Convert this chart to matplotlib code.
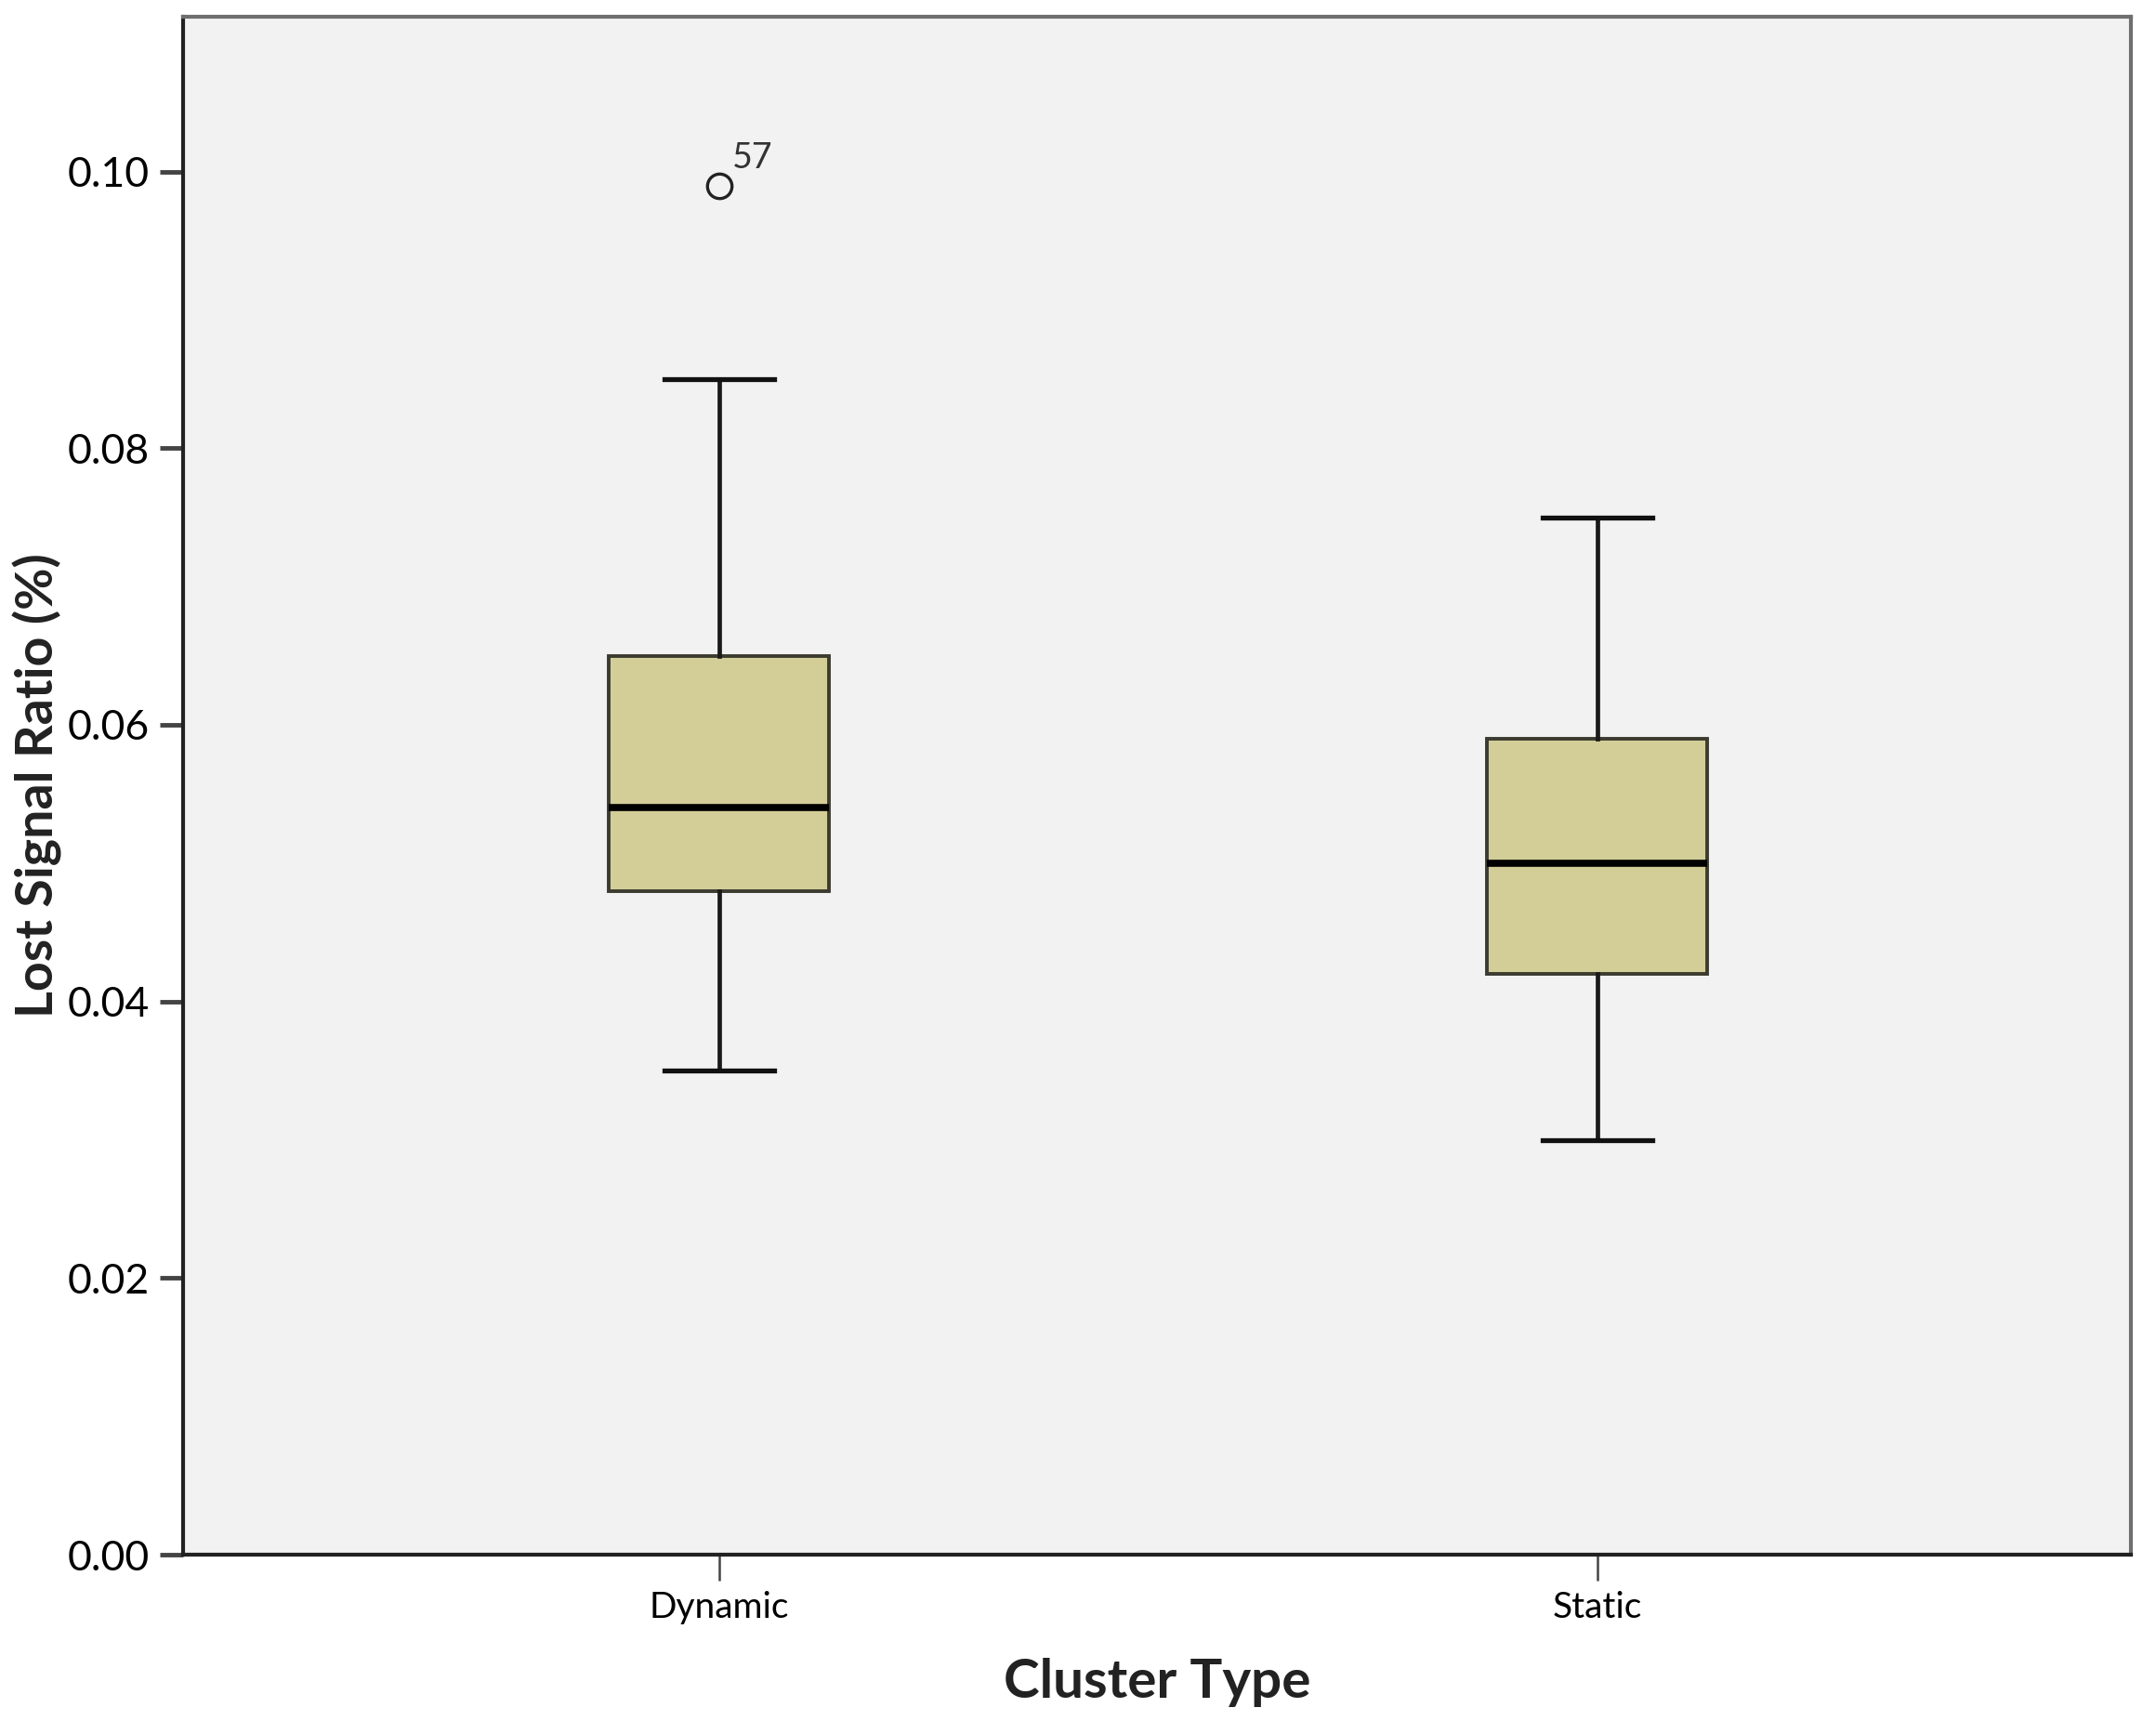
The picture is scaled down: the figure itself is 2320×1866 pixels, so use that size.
import numpy as np
import matplotlib
matplotlib.use("Agg")
import matplotlib.pyplot as plt

plt.rcParams['font.family'] = ['Lato', 'DejaVu Sans']

# box plot summary
categories = ["Dynamic", "Static"]
whisker_low = [0.035, 0.030]
q1 = [0.048, 0.042]
median = [0.054, 0.050]
q3 = [0.065, 0.059]
whisker_high = [0.085, 0.075]
outliers = [[0.099], []]
outlier_ids = [["57"], []]

stats = []
for i, name in enumerate(categories):
    stats.append(dict(label=name, whislo=whisker_low[i], q1=q1[i], med=median[i],
                      q3=q3[i], whishi=whisker_high[i], fliers=outliers[i]))

fig = plt.figure(figsize=(23.2, 18.66), dpi=100)
ax = fig.add_axes([0.085, 0.1034, 0.9034, 0.887])
ax.set_facecolor('#f2f2f2')

ax.bxp(stats, positions=[1, 2], widths=0.25, capwidths=0.125, patch_artist=True,
       boxprops=dict(facecolor='#d3ce98', edgecolor='#3c3b30', linewidth=2.8),
       medianprops=dict(color='black', linewidth=5.5),
       whiskerprops=dict(color='#1a1a1a', linewidth=3.4),
       capprops=dict(color='#111111', linewidth=3.8),
       flierprops=dict(marker='o', markersize=19, markerfacecolor='none',
                       markeredgecolor='#222222', markeredgewidth=2.4))

for i, ids in enumerate(outlier_ids):
    for val, lab in zip(outliers[i], ids):
        ax.annotate(lab, (i + 1, val), xytext=(10, 8), textcoords='offset points',
                    fontsize=27, color='#333333', ha='left', va='bottom')

ax.set_xlim(0.39, 2.608)
ax.set_ylim(0, 0.1112)
ax.set_yticks(np.arange(0, 0.101, 0.02))
ax.set_yticklabels([f"{v:.2f}" for v in np.arange(0, 0.101, 0.02)])
ax.tick_params(axis='y', labelsize=32, length=18, width=3.5, color='#444444', pad=8)
ax.tick_params(axis='x', labelsize=28, length=20, width=1.8, color='#444444', pad=8)

for side in ['left', 'bottom']:
    ax.spines[side].set_color('#222222')
    ax.spines[side].set_linewidth(3)
for side in ['top', 'right']:
    ax.spines[side].set_color('#6e6e6e')
    ax.spines[side].set_linewidth(3)

ax.set_xlabel("Cluster Type", fontsize=42, fontweight='bold', color='#222222', labelpad=26)
ax.set_ylabel("Lost Signal Ratio (%)", fontsize=40, fontweight='bold', color='#222222')
ax.yaxis.set_label_coords(-0.062, 0.5)

fig.savefig("out.png", dpi=100, facecolor='white')
